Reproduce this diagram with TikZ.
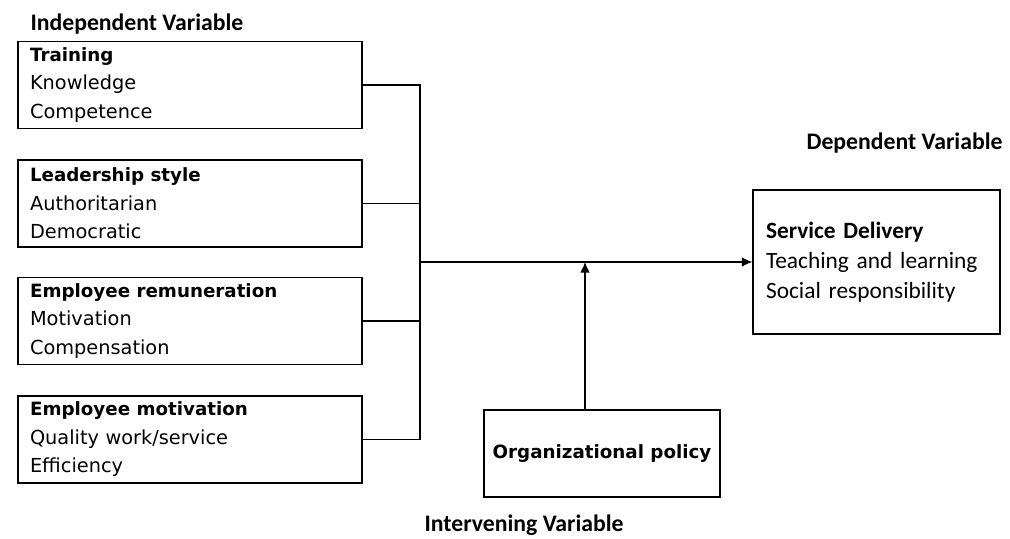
\documentclass[tikz,border=0pt]{standalone}
\usepackage{fontspec}
\setmainfont{DejaVu Sans}
\newfontfamily\calib{Carlito}
\usepackage{tikz}
\usetikzlibrary{arrows.meta}
\tikzset{>={Latex[length=6pt,width=5.5pt]}}
\tikzset{
  varbox/.style={draw,line width=0.8pt,text width=6.4cm,inner xsep=0.24cm,minimum height=1.74cm,align=left,font=\fontsize{11}{16.2}\selectfont},
  varlabel/.style={anchor=west,font=\calib\bfseries\fontsize{13.5}{16}\selectfont}
}
\newcommand\boxhead[1]{{\fontsize{10.4}{16.2}\selectfont\bfseries #1}}

\begin{document}
\begin{tikzpicture}[x=0.02cm,y=-0.02cm,line width=0.8pt]
      \useasboundingbox (0,0) rectangle (1010,538);
      \node[varlabel] (indep) at (24,24) {Independent Variable};
      \node[varbox] (train) at (190,85) {\boxhead{Training}\\Knowledge\\Competence};
      \node[varbox] (lead) at (190,203.5) {\boxhead{Leadership style}\\Authoritarian\\Democratic};
      \node[varbox] (remun) at (190,321) {\boxhead{Employee remuneration}\\Motivation\\Compensation};
      \node[varbox] (motiv) at (190,439.5) {\boxhead{Employee motivation}\\Quality work/service\\Efficiency};
      \node[varlabel] (dep) at (800,143) {Dependent Variable};
      \node[draw,text width=4.42cm,inner xsep=0.26cm,minimum height=2.88cm,align=left,font=\calib\fontsize{13.3}{17}\selectfont] (service) at (876.5,262) {\textbf{Service Delivery}\\Teaching and learning\\Social responsibility};
      \node[draw,minimum width=4.72cm,minimum height=1.74cm,font=\bfseries\fontsize{10.4}{12}\selectfont] (policy) at (602,453.5) {Organizational policy};
      \node[varlabel] (interv) at (418,525) {Intervening Variable};
      \coordinate (bar) at (420,262);
      \coordinate (join) at (585,262);
      \draw (train.east) -- (train.east -| bar) -- (motiv.east -| bar) -- (motiv.east);
      \draw (lead.east) -- (lead.east -| bar);
      \draw (remun.east) -- (remun.east -| bar);
      \draw[->] (bar) -- (service.west);
      \draw[->] (policy.north -| join) -- (join);
\end{tikzpicture}
\end{document}
